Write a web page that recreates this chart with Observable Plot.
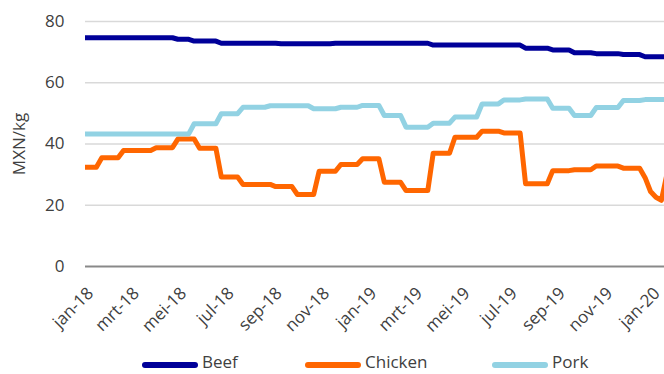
<!DOCTYPE html>
<html>
<head>
<meta charset="utf-8">
<script src="https://cdn.jsdelivr.net/npm/d3@7"></script>
<script src="https://cdn.jsdelivr.net/npm/@observablehq/plot@0.6"></script>
<style>
  html, body { margin: 0; padding: 0; background: #fff; }
  #wrap { position: relative; width: 664px; height: 374px; overflow: hidden; font-family: "Open Sans", sans-serif; }
  .leg { position: absolute; top: 351px; height: 22px; line-height: 22px; display: flex; align-items: center; font-size: 17px; color: #404040; white-space: nowrap; }
  .sw { width: 56px; height: 6px; border-radius: 3px; margin-right: 4px; position: relative; top: 3px; }
</style>
</head>
<body>
<div id="wrap"></div>
<script>
// Series names and colours
const seriesNames = ["Beef", "Chicken", "Pork"];
const seriesColors = ["#000099", "#ff6600", "#92d2e3"];

// Weekly observations starting Monday 2018-01-01 (one value per week)
const firstWeek = "2018-01-01";
const beef = [
  74.7,74.7,74.7,74.7,74.7,74.7,74.7,74.7,74.7,74.7,74.7,74.7,74.7,74.7,74.7,74.7,74.7,
  74.2,74.2,74.2,
  73.6,73.6,73.6,73.6,73.6,
  72.9,72.9,72.9,72.9,72.9,72.9,72.9,72.9,72.9,72.9,72.9,
  72.7,72.7,72.7,72.7,72.7,72.7,72.7,72.7,72.7,72.7,
  72.9,72.9,72.9,72.9,72.9,72.9,72.9,72.9,72.9,72.9,72.9,72.9,72.9,72.9,72.9,72.9,72.9,72.9,
  72.3,72.3,72.3,72.3,72.3,72.3,72.3,72.3,72.3,72.3,72.3,72.3,72.3,72.3,72.3,72.3,72.3,
  71.3,71.3,71.3,71.3,71.3,
  70.7,70.7,70.7,70.7,
  69.8,69.8,69.8,69.8,
  69.5,69.5,69.5,69.5,69.5,
  69.2,69.2,69.2,69.2,
  68.5,68.5,68.5,68.5,68.5
];
const chicken = [
  32.4,32.4,32.4,
  35.5,35.5,35.5,35.5,
  37.9,37.9,37.9,37.9,37.9,37.9,
  38.8,38.8,38.8,38.8,
  41.6,41.6,41.6,41.6,
  38.6,38.6,38.6,38.6,
  29.2,29.2,29.2,29.2,
  26.8,26.8,26.8,26.8,26.8,26.8,
  26.1,26.1,26.1,26.1,
  23.5,23.5,23.5,23.5,
  31.1,31.1,31.1,31.1,
  33.3,33.3,33.3,33.3,
  35.2,35.2,35.2,35.2,
  27.5,27.5,27.5,27.5,
  24.8,24.8,24.8,24.8,24.8,
  37.0,37.0,37.0,37.0,
  42.2,42.2,42.2,42.2,42.2,
  44.2,44.2,44.2,44.2,
  43.6,43.6,43.6,43.6,
  27.0,27.0,27.0,27.0,27.0,
  31.3,31.3,31.3,31.3,
  31.6,31.6,31.6,31.6,
  32.8,32.8,32.8,32.8,32.8,
  32.1,32.1,32.1,32.1,
  29.0,24.5,22.6,21.6,30.0
];
const pork = [
  43.3,43.3,43.3,43.3,43.3,43.3,43.3,43.3,43.3,43.3,43.3,43.3,43.3,43.3,43.3,43.3,43.3,43.3,43.3,43.3,
  46.6,46.6,46.6,46.6,46.6,
  49.9,49.9,49.9,49.9,
  52.0,52.0,52.0,52.0,52.0,
  52.5,52.5,52.5,52.5,52.5,52.5,52.5,52.5,
  51.5,51.5,51.5,51.5,51.5,
  52.0,52.0,52.0,52.0,
  52.6,52.6,52.6,52.6,
  49.3,49.3,49.3,49.3,
  45.5,45.5,45.5,45.5,45.5,
  46.8,46.8,46.8,46.8,
  48.8,48.8,48.8,48.8,48.8,
  53.1,53.1,53.1,53.1,
  54.4,54.4,54.4,54.4,
  54.7,54.7,54.7,54.7,54.7,
  51.7,51.7,51.7,51.7,
  49.3,49.3,49.3,49.3,
  51.9,51.9,51.9,51.9,51.9,
  54.2,54.2,54.2,54.2,
  54.5,54.5,54.5,54.5,54.5
];

// Axis ticks
const xTickDates = ["2018-01-01","2018-03-01","2018-05-01","2018-07-01","2018-09-01","2018-11-01",
  "2019-01-01","2019-03-01","2019-05-01","2019-07-01","2019-09-01","2019-11-01","2020-01-01"];
const xTickLabels = ["jan-18","mrt-18","mei-18","jul-18","sep-18","nov-18",
  "jan-19","mrt-19","mei-19","jul-19","sep-19","nov-19","jan-20"];
const yTicks = [0, 20, 40, 60, 80];
const xDomain = ["2018-01-01", "2020-01-17"];
const yLabel = "MXN/kg";

const start = new Date(firstWeek + "T00:00:00Z");
const seriesValues = [beef, chicken, pork];
const rows = [];
seriesValues.forEach((vals, s) => {
  vals.forEach((v, i) => rows.push({date: d3.utcDay.offset(start, 7 * i), value: v, series: seriesNames[s]}));
});
const parse = (s) => new Date(s + "T00:00:00Z");

const chart = Plot.plot({
  width: 664,
  height: 335,
  marginLeft: 85,
  marginRight: 0,
  marginTop: 21,
  marginBottom: 69,
  style: {fontFamily: "Open Sans, sans-serif", fontSize: "17px", color: "#404040", background: "#fff"},
  x: {type: "utc", domain: xDomain.map(parse)},
  y: {domain: [0, 80]},
  color: {domain: seriesNames, range: seriesColors},
  marks: [
    Plot.gridY(yTicks.filter(d => d > 0), {stroke: "#d9d9d9", strokeOpacity: 1, strokeWidth: 1.5}),
    Plot.ruleY([0], {stroke: "#898989", strokeWidth: 2}),
    Plot.axisY(yTicks, {tickSize: 0, tickPadding: 21, label: yLabel, labelAnchor: "center", labelArrow: "none", labelOffset: 73}),
    Plot.axisX(xTickDates.map(parse), {tickSize: 0, tickPadding: 8, dy: 16, dx: 5, tickRotate: -45, tickFormat: (d, i) => xTickLabels[i], label: null}),
    Plot.line(rows, {x: "date", y: "value", z: "series", stroke: "series", strokeWidth: 5, strokeLinejoin: "round", clip: true})
  ]
});
const wrap = document.getElementById("wrap");
wrap.appendChild(chart);

const legendLeft = [142, 305, 492];
seriesNames.forEach((name, i) => {
  const item = document.createElement("div");
  item.className = "leg";
  item.style.left = legendLeft[i] + "px";
  const sw = document.createElement("div");
  sw.className = "sw";
  sw.style.background = seriesColors[i];
  const t = document.createElement("span");
  t.textContent = name;
  item.appendChild(sw);
  item.appendChild(t);
  wrap.appendChild(item);
});
</script>
</body>
</html>
